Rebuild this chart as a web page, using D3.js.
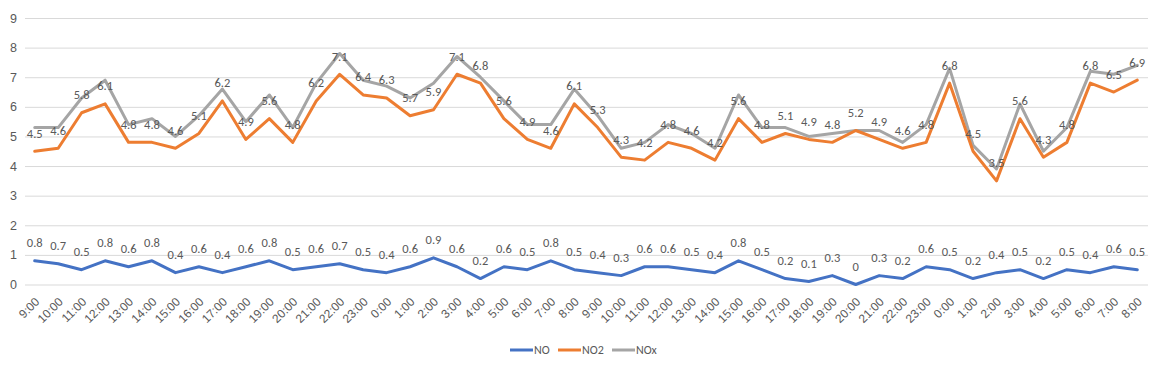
<!DOCTYPE html>
<html>
<head>
<meta charset="utf-8">
<script src="https://cdn.jsdelivr.net/npm/d3@7"></script>
<style>
  html, body { margin: 0; padding: 0; background: #fff; }
  svg { display: block; font-family: Carlito, Calibri, "Liberation Sans Narrow", "Open Sans", sans-serif; }
</style>
</head>
<body>
<svg id="chart" width="1162" height="365"></svg>
<script>
const categories = ["9:00","10:00","11:00","12:00","13:00","14:00","15:00","16:00","17:00","18:00","19:00","20:00","21:00","22:00","23:00","0:00","1:00","2:00","3:00","4:00","5:00","6:00","7:00","8:00",
  "9:00","10:00","11:00","12:00","13:00","14:00","15:00","16:00","17:00","18:00","19:00","20:00","21:00","22:00","23:00","0:00","1:00","2:00","3:00","4:00","5:00","6:00","7:00","8:00"];
const noValues = [0.8,0.7,0.5,0.8,0.6,0.8,0.4,0.6,0.4,0.6,0.8,0.5,0.6,0.7,0.5,0.4,0.6,0.9,0.6,0.2,0.6,0.5,0.8,0.5,
  0.4,0.3,0.6,0.6,0.5,0.4,0.8,0.5,0.2,0.1,0.3,0,0.3,0.2,0.6,0.5,0.2,0.4,0.5,0.2,0.5,0.4,0.6,0.5];
const no2Values = [4.5,4.6,5.8,6.1,4.8,4.8,4.6,5.1,6.2,4.9,5.6,4.8,6.2,7.1,6.4,6.3,5.7,5.9,7.1,6.8,5.6,4.9,4.6,6.1,
  5.3,4.3,4.2,4.8,4.6,4.2,5.6,4.8,5.1,4.9,4.8,5.2,4.9,4.6,4.8,6.8,4.5,3.5,5.6,4.3,4.8,6.8,6.5,6.9];
const noxValues = [5.3,5.3,6.3,6.9,5.4,5.6,5.0,5.7,6.6,5.5,6.4,5.3,6.8,7.8,6.9,6.7,6.3,6.8,7.7,7.0,6.2,5.4,5.4,6.6,
  5.7,4.6,4.8,5.4,5.1,4.6,6.4,5.3,5.3,5.0,5.1,5.2,5.2,4.8,5.4,7.3,4.7,3.9,6.1,4.5,5.3,7.2,7.1,7.4];
const yTicks = [0,1,2,3,4,5,6,7,8,9];
const seriesNames = ["NO","NO2","NOx"];
const seriesColors = ["#4472C4","#ED7D31","#A5A5A5"];

const svg = d3.select("#chart");
const plot = {left: 23, right: 1149, top: 18, bottom: 284.5};

const x = d3.scalePoint().domain(d3.range(categories.length)).range([plot.left, plot.right]).padding(0.5);
const y = d3.scaleLinear().domain([0, 9]).range([plot.bottom, plot.top]);

const textColor = "#595959";

// gridlines
const yAxis = d3.axisLeft(y).tickValues(yTicks).tickSize(-(1148 - 25)).tickFormat(d3.format("d")).tickPadding(8);
const gy = svg.append("g").attr("transform", "translate(25,0)").call(yAxis);
gy.select(".domain").remove();
gy.selectAll(".tick line").attr("stroke", "#D9D9D9").attr("stroke-width", 1);
gy.selectAll(".tick text").attr("fill", textColor).attr("font-size", 12.5).attr("font-family", null);

// x axis labels
const xAxis = d3.axisBottom(x).tickSize(0).tickFormat(i => categories[i]);
const gx = svg.append("g").attr("transform", `translate(0,${plot.bottom})`).call(xAxis);
gx.select(".domain").remove();
gx.selectAll(".tick text")
  .attr("fill", textColor).attr("font-size", 12).attr("font-family", null)
  .attr("text-anchor", "end")
  .attr("dy", null).attr("y", 0)
  .attr("transform", "translate(5,18) rotate(-45)");

// lines
const seriesData = [noValues, no2Values, noxValues];
const line = d3.line().x((d, i) => x(i)).y(d => y(d));
[2, 1, 0].forEach(s => {
  svg.append("path").datum(seriesData[s])
    .attr("fill", "none").attr("stroke", seriesColors[s])
    .attr("stroke-width", 3).attr("stroke-linejoin", "round").attr("stroke-linecap", "round")
    .attr("d", line);
});

// data labels for NO and NO2
[0, 1].forEach(s => {
  svg.append("g").selectAll("text").data(seriesData[s]).join("text")
    .attr("x", (d, i) => x(i)).attr("y", d => y(d) - 13.5)
    .attr("text-anchor", "middle").attr("font-size", 12.5).attr("fill", textColor)
    .text(d => d3.format("")(d));
});

// legend
const legendX = [510, 558, 612];
const lg = svg.append("g");
seriesNames.forEach((name, i) => {
  lg.append("line").attr("x1", legendX[i]).attr("x2", legendX[i] + 23)
    .attr("y1", 350).attr("y2", 350).attr("stroke", seriesColors[i]).attr("stroke-width", 3);
  lg.append("text").attr("x", legendX[i] + 24).attr("y", 354)
    .attr("font-size", 12).attr("fill", textColor).text(name);
});
</script>
</body>
</html>
